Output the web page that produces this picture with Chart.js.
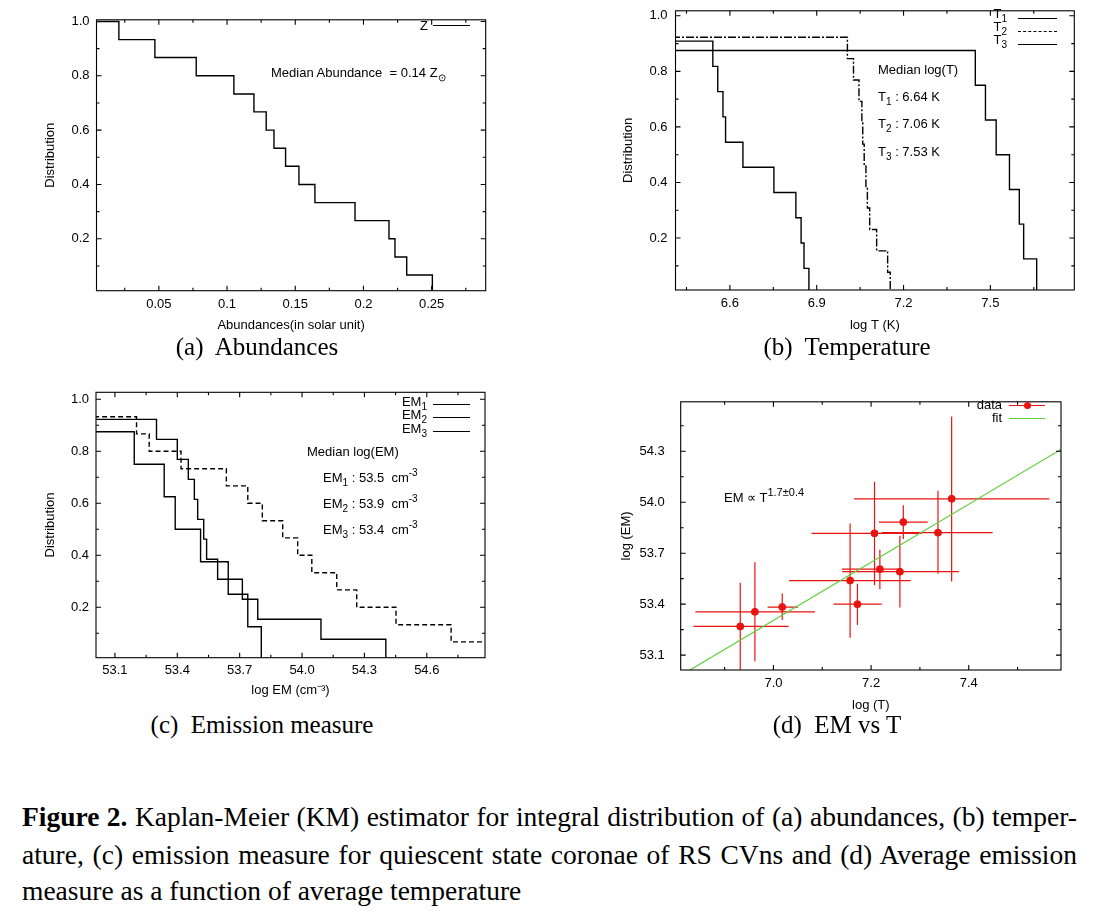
<!DOCTYPE html>
<html>
<head>
<meta charset="utf-8">
<title>Kaplan-Meier distributions</title>
<script src="https://cdn.jsdelivr.net/npm/chart.js@4.4.1/dist/chart.umd.min.js"></script>
<style>
  html, body { margin: 0; padding: 0; background: #fff; }
  body { position: relative; width: 1099px; height: 915px; overflow: hidden; font-family: "Liberation Sans", Arial, sans-serif; color: #000; }
  canvas { position: absolute; }
  .t { position: absolute; font-size: 13px; line-height: 14px; white-space: nowrap; }
  .r { text-align: right; width: 60px; }
  .t sub { font-size: 10px; vertical-align: -4px; line-height: 0; }
  .t sup { font-size: 10px; vertical-align: 6px; line-height: 0; }
  .key { position: absolute; height: 0; width: 37px; border-top: 1.3px solid #000; }
  .dot { position: absolute; width: 7px; height: 7px; border-radius: 50%; background: #e8140f; }
  .cap { position: absolute; width: 400px; text-align: center; font-family: "Liberation Serif", "Times New Roman", serif; font-size: 25px; line-height: 28px; white-space: pre; }
  .fig { position: absolute; left: 22px; width: 1055px; font-family: "Liberation Serif", "Times New Roman", serif; font-size: 27.5px; line-height: 30px; white-space: nowrap; text-align: justify; text-align-last: justify; }
  .fig.last { text-align-last: left; }
</style>
</head>
<body>
<canvas id="chartA" width="475" height="335" style="left:20px;top:5px"></canvas>
<canvas id="chartB" width="490" height="345" style="left:600px;top:-5px"></canvas>
<canvas id="chartC" width="475" height="330" style="left:20px;top:375px"></canvas>
<canvas id="chartD" width="480" height="342" style="left:600px;top:378px"></canvas>

<!-- (a) -->
<div class="t r" style="left:368px;top:19px">Z</div>
<div class="key" style="left:433px;top:25px"></div>
<div class="t" style="left:271px;top:66px">Median Abundance&nbsp; = 0.14 Z<sub>⊙</sub></div>

<!-- (b) -->
<div class="t r" style="left:947px;top:7px">T<sub>1</sub></div>
<div class="t r" style="left:947px;top:20px">T<sub>2</sub></div>
<div class="t r" style="left:947px;top:33px">T<sub>3</sub></div>
<div class="key" style="left:1018px;top:18px;width:39px"></div>
<div class="key" style="left:1018px;top:31px;width:39px;border-top-style:dashed"></div>
<div class="key" style="left:1018px;top:44px;width:39px"></div>
<div class="t" style="left:878px;top:63px">Median log(T)</div>
<div class="t" style="left:878px;top:90px">T<sub>1</sub> : 6.64 K</div>
<div class="t" style="left:878px;top:117px">T<sub>2</sub> : 7.06 K</div>
<div class="t" style="left:878px;top:145px">T<sub>3</sub> : 7.53 K</div>

<!-- (c) -->
<div class="t r" style="left:367px;top:395px">EM<sub>1</sub></div>
<div class="t r" style="left:367px;top:408px">EM<sub>2</sub></div>
<div class="t r" style="left:367px;top:422px">EM<sub>3</sub></div>
<div class="key" style="left:433px;top:404px"></div>
<div class="key" style="left:433px;top:417px"></div>
<div class="key" style="left:433px;top:431px"></div>
<div class="t" style="left:307px;top:445px">Median log(EM)</div>
<div class="t" style="left:323px;top:471px">EM<sub>1</sub> : 53.5&nbsp; cm<sup>-3</sup></div>
<div class="t" style="left:323px;top:497px">EM<sub>2</sub> : 53.9&nbsp; cm<sup>-3</sup></div>
<div class="t" style="left:323px;top:523px">EM<sub>3</sub> : 53.4&nbsp; cm<sup>-3</sup></div>

<!-- (d) -->
<div class="t r" style="left:942px;top:398px">data</div>
<div class="t r" style="left:942px;top:411px">fit</div>
<div class="key" style="left:1009px;top:405px;width:36px;border-top-color:#e8140f"></div>
<div class="dot" style="left:1024px;top:402px"></div>
<div class="key" style="left:1009px;top:418px;width:36px;border-top-color:#5ccf3a"></div>
<div class="t" style="left:724px;top:491px">EM ∝ T<sup style="font-size:11px">1.7±0.4</sup></div>

<!-- sub-captions -->
<div class="cap" style="left:57px;top:333px">(a)  Abundances</div>
<div class="cap" style="left:647px;top:333px">(b)  Temperature</div>
<div class="cap" style="left:62px;top:711px">(c)  Emission measure</div>
<div class="cap" style="left:637px;top:711px">(d)  EM vs T</div>

<div class="fig" style="top:802px"><b>Figure 2.</b> Kaplan-Meier (KM) estimator for integral distribution of (a) abundances, (b) temper-</div>
<div class="fig" style="top:840px">ature, (c) emission measure for quiescent state coronae of RS CVns and (d) Average emission</div>
<div class="fig last" style="top:876px">measure as a function of average temperature</div>

<script>
// (a) abundances: drop positions and level after each drop
const abundX = [0.003, 0.0207, 0.0471, 0.0774, 0.1050, 0.1197, 0.1287, 0.1344, 0.1429, 0.1527, 0.1644, 0.1938, 0.2187, 0.2231, 0.2317, 0.2505];
const abundY = [1.000, 0.933, 0.867, 0.800, 0.733, 0.667, 0.600, 0.533, 0.467, 0.400, 0.333, 0.267, 0.200, 0.133, 0.067, 0.000];
const abundXTicks = ['0.05', '0.1', '0.15', '0.2', '0.25'];
const distTicks = ['0.2', '0.4', '0.6', '0.8', '1.0'];

// (b) temperature
const t1X = [6.40, 6.541, 6.558, 6.576, 6.585, 6.645, 6.752, 6.828, 6.846, 6.856, 6.873];
const t1Y = [0.909, 0.818, 0.727, 0.636, 0.545, 0.455, 0.364, 0.273, 0.182, 0.091, 0.000];
const t2X = [6.40, 7.006, 7.027, 7.046, 7.056, 7.059, 7.064, 7.070, 7.075, 7.083, 7.107, 7.145, 7.154];
const t2Y = [0.923, 0.846, 0.769, 0.692, 0.615, 0.538, 0.462, 0.385, 0.308, 0.231, 0.154, 0.077, 0.000];
const t3X = [6.40, 7.448, 7.483, 7.520, 7.566, 7.600, 7.615, 7.660];
const t3Y = [0.875, 0.750, 0.625, 0.500, 0.375, 0.250, 0.125, 0.000];
const tempXTicks = ['6.6', '6.9', '7.2', '7.5'];

// (c) emission measure
const em1X = [53.0, 53.300, 53.400, 53.453, 53.482, 53.498, 53.527, 53.541, 53.594, 53.713, 53.787, 54.091, 54.403];
const em1Y = [0.923, 0.846, 0.769, 0.692, 0.615, 0.538, 0.462, 0.385, 0.308, 0.231, 0.154, 0.077, 0.000];
const em2X = [53.0, 53.204, 53.265, 53.418, 53.636, 53.739, 53.809, 53.907, 53.979, 54.047, 54.167, 54.263, 54.452, 54.717, 54.90];
const em2Y = [0.933, 0.867, 0.800, 0.733, 0.667, 0.600, 0.533, 0.467, 0.400, 0.333, 0.267, 0.200, 0.133, 0.067, 0.067];
const em3X = [53.0, 53.193, 53.337, 53.390, 53.512, 53.645, 53.739, 53.804];
const em3Y = [0.875, 0.750, 0.625, 0.500, 0.375, 0.250, 0.125, 0.000];
const emXTicks = ['53.1', '53.4', '53.7', '54.0', '54.3', '54.6'];

// (d) EM vs T with error bars
const avgT  = [6.932, 6.962, 7.018, 7.157, 7.172, 7.207, 7.218, 7.259, 7.266, 7.337, 7.365];
const avgEM = [53.269, 53.355, 53.383, 53.539, 53.400, 53.817, 53.606, 53.591, 53.883, 53.821, 54.020];
const tLow  = [6.836, 6.840, 6.988, 7.032, 7.123, 7.078, 7.140, 7.141, 7.216, 7.222, 7.165];
const tHigh = [7.031, 7.085, 7.050, 7.281, 7.222, 7.304, 7.263, 7.380, 7.316, 7.449, 7.565];
const emLow  = [53.000, 53.064, 53.307, 53.203, 53.277, 53.511, 53.488, 53.380, 53.783, 53.579, 53.534];
const emHigh = [53.526, 53.646, 53.463, 53.874, 53.520, 54.121, 53.720, 53.802, 53.982, 54.068, 54.505];
const fitT  = [6.81, 7.59];
const fitEM = [52.980, 54.313];
const vsXTicks = ['7.0', '7.2', '7.4'];
const vsYTicks = ['53.1', '53.4', '53.7', '54.0', '54.3'];

const RED = '#e8140f';
const GREEN = '#5ccf3a';
const tickFont = { family: 'Liberation Sans', size: 13 };
const titleFont = { family: 'Liberation Sans', size: 13 };

const pts = (xs, ys) => xs.map((x, i) => ({ x: x, y: ys[i] }));

// all ticks (majors + minors) inside [min, max]
function tickList(labels, minor, min, max) {
  const base = Number(labels[0]);
  const out = [];
  for (let k = Math.ceil((min - base) / minor - 1e-9); base + k * minor <= max + 1e-9; k++) {
    out.push({ value: +(base + k * minor).toFixed(6) });
  }
  return out;
}
function tickLabel(labels, v) {
  const hit = labels.find(l => Math.abs(Number(l) - v) < 1e-6);
  return hit === undefined ? '' : hit;
}

function axis(o) {
  return {
    type: 'linear', min: o.min, max: o.max, bounds: 'data',
    grid: { display: false, drawTicks: false },
    border: { display: false },
    afterBuildTicks: s => { s.ticks = tickList(o.labels, o.minor, o.min, o.max); },
    afterFit: s => { if (s.isHorizontal()) s.height = o.size; else s.width = o.size; },
    ticks: { autoSkip: false, maxRotation: 0, minRotation: 0, padding: o.tickPad, color: '#000', font: tickFont,
             callback: v => tickLabel(o.labels, v) },
    title: { display: true, text: o.title, color: '#000', font: titleFont, padding: o.titlePad }
  };
}

// gnuplot style frame with inward ticks on all four sides
const gnuFrame = {
  id: 'gnuFrame',
  afterDatasetsDraw(chart) {
    const { ctx, chartArea: a, scales } = chart;
    ctx.save();
    ctx.strokeStyle = '#000';
    ctx.lineWidth = 1.1;
    ctx.strokeRect(a.left, a.top, a.right - a.left, a.bottom - a.top);
    ctx.beginPath();
    scales.x.ticks.forEach(t => {
      const p = scales.x.getPixelForValue(t.value), len = t.label ? 5 : 3;
      ctx.moveTo(p, a.bottom); ctx.lineTo(p, a.bottom - len);
      ctx.moveTo(p, a.top); ctx.lineTo(p, a.top + len);
    });
    scales.y.ticks.forEach(t => {
      const p = scales.y.getPixelForValue(t.value), len = t.label ? 5 : 3;
      ctx.moveTo(a.left, p); ctx.lineTo(a.left + len, p);
      ctx.moveTo(a.right, p); ctx.lineTo(a.right - len, p);
    });
    ctx.stroke();
    ctx.restore();
  }
};

// x and y error bars for panel (d)
const errorBars = {
  id: 'errorBars',
  beforeDatasetsDraw(chart) {
    const { ctx, chartArea: a, scales: { x, y } } = chart;
    ctx.save();
    ctx.beginPath();
    ctx.rect(a.left, a.top, a.right - a.left, a.bottom - a.top);
    ctx.clip();
    ctx.strokeStyle = RED;
    ctx.lineWidth = 1.2;
    ctx.beginPath();
    avgT.forEach((t, i) => {
      const px = x.getPixelForValue(t), py = y.getPixelForValue(avgEM[i]);
      ctx.moveTo(x.getPixelForValue(tLow[i]), py); ctx.lineTo(x.getPixelForValue(tHigh[i]), py);
      ctx.moveTo(px, y.getPixelForValue(emLow[i])); ctx.lineTo(px, y.getPixelForValue(emHigh[i]));
    });
    ctx.stroke();
    ctx.restore();
  }
};

function stepSet(xs, ys, dash) {
  return { data: pts(xs, ys), stepped: true, borderColor: '#000', borderWidth: 1.4,
           borderDash: dash || [], pointRadius: 0, fill: false };
}

function options(xAxis, yAxis, pad) {
  return {
    responsive: false, animation: false,
    layout: { padding: pad },
    plugins: { legend: { display: false }, tooltip: { enabled: false } },
    scales: { x: xAxis, y: yAxis }
  };
}

new Chart(document.getElementById('chartA'), {
  type: 'line',
  data: { datasets: [stepSet(abundX, abundY)] },
  options: options(
    axis({ min: 0.0043, max: 0.2896, labels: abundXTicks, minor: 0.025, size: 49.3, tickPad: 6,
           title: 'Abundances(in solar unit)', titlePad: { bottom: 7.2 } }),
    axis({ min: 0.009, max: 1.006, labels: distTicks, minor: 0.1, size: 76.5, tickPad: 7,
           title: 'Distribution', titlePad: { top: 22.2 } }),
    { top: 12.3, right: 9.3, left: 0, bottom: 0 }),
  plugins: [gnuFrame]
});

new Chart(document.getElementById('chartB'), {
  type: 'line',
  data: { datasets: [stepSet(t1X, t1Y), stepSet(t2X, t2Y, [8, 2, 2, 2]), stepSet(t3X, t3Y)] },
  options: options(
    axis({ min: 6.412, max: 7.79, labels: tempXTicks, minor: 0.15, size: 50, tickPad: 6,
           title: 'log T (K)', titlePad: { bottom: 7.2 } }),
    axis({ min: 0.013, max: 1.018, labels: distTicks, minor: 0.1, size: 75.5, tickPad: 8,
           title: 'Distribution', titlePad: { top: 20.2 } }),
    { top: 12.3, right: 15.7, left: 0, bottom: 0 }),
  plugins: [gnuFrame]
});

new Chart(document.getElementById('chartC'), {
  type: 'line',
  data: { datasets: [stepSet(em1X, em1Y), stepSet(em2X, em2Y, [5, 3]), stepSet(em3X, em3Y)] },
  options: options(
    axis({ min: 53.009, max: 54.88, labels: emXTicks, minor: 0.15, size: 47.3, tickPad: 5,
           title: 'log EM (cm⁻³)', titlePad: { bottom: 7.2 } }),
    axis({ min: 0.006, max: 1.027, labels: distTicks, minor: 0.1, size: 76, tickPad: 7,
           title: 'Distribution', titlePad: { top: 22.2 } }),
    { top: 17.3, right: 10, left: 0, bottom: 0 }),
  plugins: [gnuFrame]
});

new Chart(document.getElementById('chartD'), {
  type: 'scatter',
  data: {
    datasets: [
      { data: pts(avgT, avgEM), backgroundColor: RED, borderColor: RED, pointRadius: 3.5, showLine: false },
      { data: pts(fitT, fitEM), showLine: true, borderColor: GREEN, borderWidth: 1.2, pointRadius: 0, fill: false }
    ]
  },
  options: options(
    axis({ min: 6.81, max: 7.589, labels: vsXTicks, minor: 0.1, size: 50, tickPad: 6,
           title: 'log (T)', titlePad: { bottom: 7.2 } }),
    axis({ min: 53.0125, max: 54.591, labels: vsYTicks, minor: 0.15, size: 80.7, tickPad: 16,
           title: 'log (EM)', titlePad: { top: 18.2 } }),
    { top: 15.3, right: 19, left: 0, bottom: 0 }),
  plugins: [errorBars, gnuFrame]
});
</script>
</body>
</html>
